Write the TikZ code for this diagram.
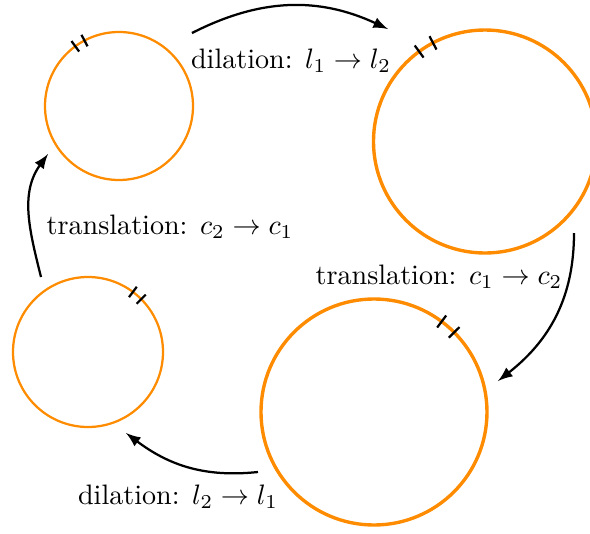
\documentclass[tikz,border=0pt]{standalone}
\usetikzlibrary{arrows}
\definecolor{ringorange}{RGB}{255,140,0}
\def\pxu{0.0125cm}
\tikzset{
  ring/.style={circle,draw=ringorange,line width=0.8pt,inner sep=0pt,minimum size={#1*\pxu}},
  bigring/.style={ring=#1,line width=1.2pt},
  tick/.style={line width=0.8pt},
  flow/.style={->,thick},
}
% two short radial marks on a circle: node, angle, radius, mark length
\newcommand{\twomarks}[4]{%
  \foreach \s in {-4.2,4.2}
    \draw[tick] (#1.center) ++({#2+\s}:{#3-#4/2}) -- ++({#2+\s}:#4);
}
\begin{document}
\begin{tikzpicture}[x=\pxu,y=\pxu,>=latex]
  \useasboundingbox (0,0) rectangle (590,533);
  % 圆
  \node[ring=148] (small1) at (119,427) {};
  \node[bigring=223] (big1) at (485,391.5) {};
  \node[bigring=226] (big2) at (374,121) {};
  \node[ring=150] (small2) at (88,181) {};
  % 标记
  \twomarks{small1}{122}{74}{13}
  \twomarks{big1}{122}{111.5}{15}
  \twomarks{big2}{49}{113}{15}
  \twomarks{small2}{49}{75}{13}
  % 箭头端点
  \coordinate (d1s) at (192,500);
  \coordinate (d1e) at (388,504);
  \coordinate (t1s) at (574,300);
  \coordinate (t1e) at (498,152);
  \coordinate (d2s) at (258,61);
  \coordinate (d2e) at (126,100);
  \coordinate (t2s) at (41,256);
  \coordinate (t2e) at (48,379);
  \draw[flow] (d1s) to[out=27,in=155] (d1e);
  \draw[flow] (t1s) to[out=-90,in=38] (t1e);
  \draw[flow] (d2s) to[out=186,in=-37] (d2e);
  \draw[flow] (t2s) to[out=104,in=-126] (t2e);
  % 标注
  \node (dil12) at (291,472) {dilation: $l_1\to l_2$};
  \node (tra12) at (439,256) {translation: $c_1\to c_2$};
  \node (dil21) at (178,36) {dilation: $l_2\to l_1$};
  \node (tra21) at (170,306) {translation: $c_2\to c_1$};
\end{tikzpicture}
\end{document}
